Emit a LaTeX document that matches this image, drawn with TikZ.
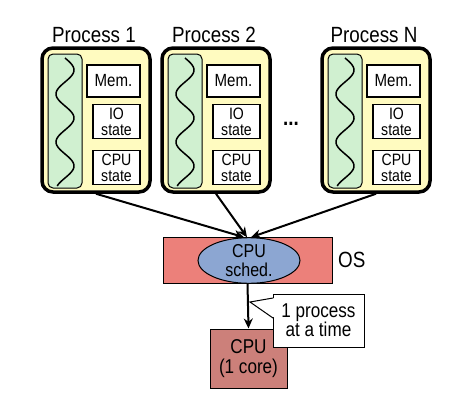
\documentclass[tikz,border=0pt]{standalone}
\usepackage{fontspec}
\setmainfont{Liberation Sans}[FakeStretch=0.855]
\usetikzlibrary{arrows.meta,shapes.geometric}
\definecolor{procyellow}{RGB}{255,251,192}
\definecolor{thrgreen}{RGB}{208,240,208}
\definecolor{osred}{RGB}{236,128,122}
\definecolor{schedblue}{RGB}{140,166,210}
\definecolor{cpured}{RGB}{204,128,122}
\tikzset{
  procbox/.style={draw, line width=3.5pt, rounded corners=11pt, fill=procyellow, minimum width=108pt, minimum height=144pt, inner sep=0pt},
  thrbox/.style={draw, line width=1pt, rounded corners=5pt, fill=thrgreen, minimum width=34pt, minimum height=134pt, inner sep=0pt},
  membox/.style={draw, line width=1.5pt, fill=white, minimum width=53pt, minimum height=32pt, inner sep=0pt, font=\fontsize{17.6}{18}\selectfont},
  statebox/.style={draw, line width=1.5pt, fill=white, minimum width=47pt, minimum height=34pt, inner sep=0pt, align=center, font=\fontsize{16.5}{16}\selectfont},
  lbl/.style={font=\fontsize{22}{24}\selectfont, inner sep=0pt},
  flow/.style={line width=2pt, -{Stealth[length=10pt,width=9pt]}},
}
\begin{document}
\begin{tikzpicture}[x=1pt,y=-1pt]
\useasboundingbox (0,0) rectangle (474,413);
\foreach \L/\t/\n in {42/1/1, 162/2/2, 322/N/N}{
  \node[procbox] (p\n) at (\L+54,120) {};
  \node[lbl] (lab\n) at (\L+52,35) {Process \t};
  \node[thrbox] (thr\n) at (\L+23,121) {};
  \draw[line width=1.5pt] plot[domain=0:960, samples=120, smooth] ({\L+23+9*sin(\x)}, {58+\x*0.1333});
  \node[membox] (mem\n) at (\L+71.5,81) {Mem.};
  \node[statebox] (io\n) at (\L+74.5,121.5) {IO\\state};
  \node[statebox] (cs\n) at (\L+74.5,167.5) {CPU\\state};
}
\node[font=\fontsize{22}{22}\selectfont\bfseries, inner sep=0pt] (dots) at (291,124) {...};
\node[draw, line width=1pt, fill=osred, minimum width=169pt, minimum height=46pt, inner sep=0pt] (os) at (247.5,260) {};
\node[draw, line width=1pt, ellipse, fill=schedblue, minimum width=102pt, minimum height=45pt, inner sep=0pt, align=center, font=\fontsize{18.7}{19}\selectfont] (sched) at (249,260.5) {CPU\\sched.};
\node[lbl, anchor=west] (oslab) at (338,260) {OS};
\node[draw, line width=1pt, fill=cpured, minimum width=77pt, minimum height=59pt, inner sep=0pt, align=center, font=\fontsize{20}{20.5}\selectfont] (cpu) at (248.5,358.5) {CPU\\(1 core)};
\draw[flow] (p1.south) -- ([xshift=-5pt]sched.north);
\draw[flow] (p2.south) -- ([xshift=-2pt]sched.north);
\draw[flow] (pN.south) -- ([xshift=2pt]sched.north);
\draw[flow] (os.south) -- (cpu.north);
\node[draw, line width=1pt, fill=white, minimum width=91pt, minimum height=53pt, inner sep=0pt, align=center, font=\fontsize{20}{19}\selectfont] (note) at (318.5,320.5) {1 process\\at a time};
\coordinate (tip) at (250,302);
\coordinate (pa) at (273,298);
\coordinate (pb) at (273,318);
\fill[white] (tip) -- ([xshift=2pt]pa) -- ([xshift=2pt]pb) -- cycle;
\draw[line width=1pt] (pa) -- (tip) -- (pb);
\end{tikzpicture}
\end{document}
